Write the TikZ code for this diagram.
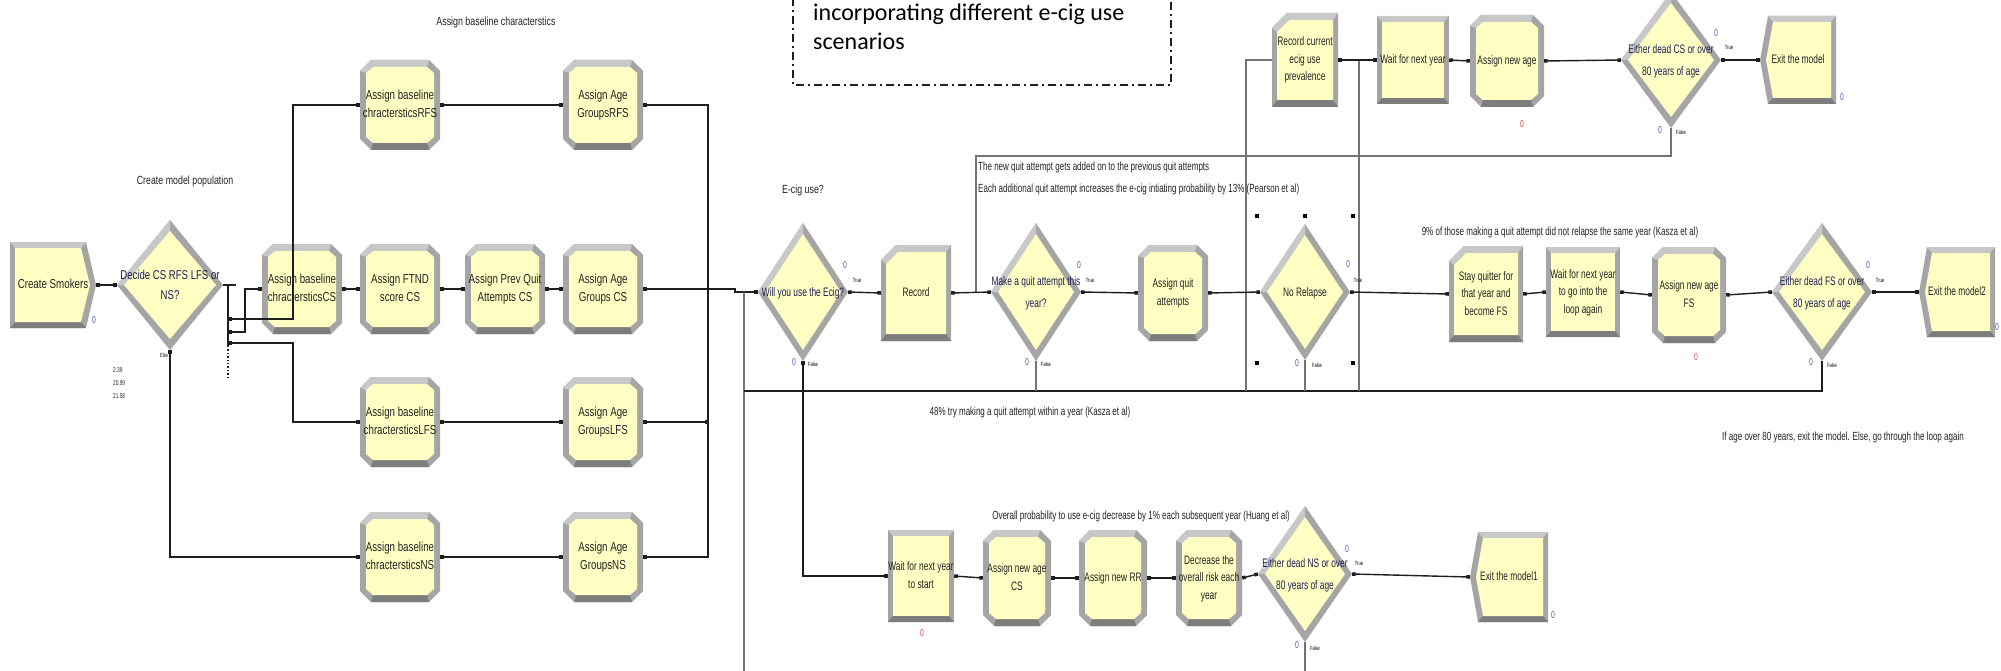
\documentclass[tikz,border=0pt]{standalone}
\usepackage{fontspec}
\setmainfont{Liberation Sans}
\newfontfamily\arnA[FakeStretch=0.75]{Liberation Sans}
\newfontfamily\arnB[FakeStretch=0.68]{Liberation Sans}
\newfontfamily\carl{Carlito}
\usetikzlibrary{arrows.meta}
\definecolor{ylw}{RGB}{255,255,196}
\definecolor{bevL}{RGB}{200,200,200}
\definecolor{bevM}{RGB}{165,165,165}
\definecolor{bevD}{RGB}{125,125,125}
\definecolor{lin}{RGB}{30,30,30}
\definecolor{glin}{RGB}{115,115,115}
\definecolor{cblue}{RGB}{80,90,175}
\definecolor{cred}{RGB}{200,80,80}
\definecolor{txt}{RGB}{35,35,35}
\definecolor{dtxt}{RGB}{30,30,85}
\newcommand\fA{\arnA\fontsize{13}{17.5}\selectfont}
\newcommand\fB{\arnB\fontsize{12.3}{17.5}\selectfont}
\newcommand\fAd{\arnA\fontsize{12.8}{20}\selectfont}
\newcommand\fBd{\arnB\fontsize{12.3}{21.5}\selectfont}
\newcommand\mlines[1]{\makebox[0pt]{\begin{tabular}{@{}c@{}}#1\end{tabular}}}
% shapes: cx cy hw hh  (y grows downwards)
\newcommand\AsgShape[4]{%
 \fill[bevM] (#1-#3+11,#2-#4) -- (#1+#3-11,#2-#4) -- (#1+#3,#2-#4+11) -- (#1+#3,#2+#4-11) -- (#1+#3-11,#2+#4) -- (#1-#3+11,#2+#4) -- (#1-#3,#2+#4-11) -- (#1-#3,#2-#4+11) -- cycle;
 \fill[bevL] (#1-#3+11,#2-#4) -- (#1+#3-11,#2-#4) -- (#1+#3-13,#2-#4+7) -- (#1-#3+13,#2-#4+7) -- cycle;
 \fill[bevL] (#1-#3,#2-#4+11) -- (#1-#3+11,#2-#4) -- (#1-#3+13,#2-#4+7) -- (#1-#3+6,#2-#4+13) -- cycle;
 \fill[bevD] (#1-#3+11,#2+#4) -- (#1+#3-11,#2+#4) -- (#1+#3-13,#2+#4-7) -- (#1-#3+13,#2+#4-7) -- cycle;
 \fill[ylw] (#1-#3+13,#2-#4+7) -- (#1+#3-13,#2-#4+7) -- (#1+#3-6,#2-#4+13) -- (#1+#3-6,#2+#4-13) -- (#1+#3-13,#2+#4-7) -- (#1-#3+13,#2+#4-7) -- (#1-#3+6,#2+#4-13) -- (#1-#3+6,#2-#4+13) -- cycle;}
\newcommand\RecShape[4]{%
 \fill[bevM] (#1-#3+15,#2-#4) -- (#1+#3,#2-#4) -- (#1+#3,#2+#4) -- (#1-#3,#2+#4) -- (#1-#3,#2-#4+15) -- cycle;
 \fill[bevL] (#1-#3+15,#2-#4) -- (#1+#3,#2-#4) -- (#1+#3-5,#2-#4+7) -- (#1-#3+17,#2-#4+7) -- cycle;
 \fill[bevL] (#1-#3,#2-#4+15) -- (#1-#3+15,#2-#4) -- (#1-#3+17,#2-#4+7) -- (#1-#3+5,#2-#4+19) -- cycle;
 \fill[bevD] (#1-#3,#2+#4) -- (#1+#3,#2+#4) -- (#1+#3-5,#2+#4-7) -- (#1-#3+5,#2+#4-7) -- cycle;
 \fill[ylw] (#1-#3+17,#2-#4+7) -- (#1+#3-5,#2-#4+7) -- (#1+#3-5,#2+#4-7) -- (#1-#3+5,#2+#4-7) -- (#1-#3+5,#2-#4+19) -- cycle;}
\newcommand\ProcShape[4]{%
 \fill[bevM] (#1-#3,#2-#4) rectangle (#1+#3,#2+#4);
 \fill[bevL] (#1-#3,#2-#4) -- (#1+#3,#2-#4) -- (#1+#3-5,#2-#4+6) -- (#1-#3+5,#2-#4+6) -- cycle;
 \fill[bevD] (#1-#3,#2+#4) -- (#1+#3,#2+#4) -- (#1+#3-5,#2+#4-6) -- (#1-#3+5,#2+#4-6) -- cycle;
 \fill[ylw] (#1-#3+5,#2-#4+6) rectangle (#1+#3-5,#2+#4-6);}
\newcommand\DispShape[4]{%
 \fill[bevM] (#1-#3,#2) -- (#1-#3+8,#2-#4) -- (#1+#3,#2-#4) -- (#1+#3,#2+#4) -- (#1-#3+8,#2+#4) -- cycle;
 \fill[bevL] (#1-#3+8,#2-#4) -- (#1+#3,#2-#4) -- (#1+#3-5,#2-#4+6) -- (#1-#3+13,#2-#4+6) -- cycle;
 \fill[bevD] (#1-#3+8,#2+#4) -- (#1+#3,#2+#4) -- (#1+#3-5,#2+#4-6) -- (#1-#3+13,#2+#4-6) -- cycle;
 \fill[ylw] (#1-#3+6,#2) -- (#1-#3+13,#2-#4+6) -- (#1+#3-5,#2-#4+6) -- (#1+#3-5,#2+#4-6) -- (#1-#3+13,#2+#4-6) -- cycle;}
\newcommand\CreShape[4]{%
 \fill[bevM] (#1-#3,#2-#4) -- (#1+#3-10,#2-#4) -- (#1+#3,#2) -- (#1+#3-10,#2+#4) -- (#1-#3,#2+#4) -- cycle;
 \fill[bevL] (#1-#3,#2-#4) -- (#1+#3-10,#2-#4) -- (#1+#3-15,#2-#4+6) -- (#1-#3+5,#2-#4+6) -- cycle;
 \fill[bevD] (#1-#3,#2+#4) -- (#1+#3-10,#2+#4) -- (#1+#3-15,#2+#4-6) -- (#1-#3+5,#2+#4-6) -- cycle;
 \fill[ylw] (#1-#3+5,#2-#4+6) -- (#1+#3-15,#2-#4+6) -- (#1+#3-6,#2) -- (#1+#3-15,#2+#4-6) -- (#1-#3+5,#2+#4-6) -- cycle;}
\newcommand\DiaShape[4]{%
 \fill[bevM] (#1,#2-#4) -- (#1+#3,#2) -- (#1,#2+#4) -- (#1-#3,#2) -- cycle;
 \fill[bevL] (#1,#2-#4) -- (#1-#3,#2) -- (#1-#3+7,#2) -- (#1,#2-#4+11) -- cycle;
 \fill[ylw] (#1,#2-#4+11) -- (#1+#3-7,#2) -- (#1,#2+#4-11) -- (#1-#3+7,#2) -- cycle;}
\newcommand\Mod[8][]{#2{#4}{#5}{#6}{#7}%
 \node[modtxt,minimum width={2*#6},minimum height={2*#7},#1] (#3) at (#4,#5) {\mlines{#8}};}
\tikzset{
 modtxt/.style={inner sep=0pt, text=txt, font=\fA},
 fB/.style={font=\fB},
 diaA/.style={text=dtxt, font=\fAd},
 diaB/.style={text=dtxt, font=\fBd},
 conn/.style={draw=lin, line width=1.4pt, arrows={Square[length=3.5pt,width=3.5pt]-Square[length=3.5pt,width=3.5pt]}},
 cline/.style={draw=lin, line width=1.4pt},
 gline/.style={draw=glin, line width=1.2pt},
 tl/.style={inner sep=0pt, font=\arnB\fontsize{6}{7}\selectfont, text=black},
 cnt/.style={inner sep=0pt, font=\arnB\fontsize{10}{11}\selectfont, text=cblue},
 cntr/.style={inner sep=0pt, font=\arnB\fontsize{10}{11}\selectfont, text=cred},
 ann/.style={inner sep=0pt, font=\arnB\fontsize{11.8}{14}\selectfont, text=txt},
 ann2/.style={inner sep=0pt, font=\arnA\fontsize{11.8}{14}\selectfont, text=txt},
 hdl/.style={fill=black, inner sep=0pt, minimum size=4pt},
}
\begin{document}
\begin{tikzpicture}[x=1pt,y=-1pt]
\fill[white] (0,0) rectangle (2001,671);
\useasboundingbox (0,0) rectangle (2001,671);

% ---------- left part
\Mod{\CreShape}{cre}{53}{285}{43}{43}{Create Smokers}
\Mod[diaA]{\DiaShape}{dec}{170}{285}{53}{65}{Decide CS RFS LFS or\\NS?}
\Mod{\AsgShape}{brfs}{400}{105}{40}{45}{Assign baseline\\chractersticsRFS}
\Mod{\AsgShape}{arfs}{603}{105}{40}{45}{Assign Age\\GroupsRFS}
\Mod{\AsgShape}{bcs}{302}{289}{40}{45}{Assign baseline\\chractersticsCS}
\Mod{\AsgShape}{ftnd}{400}{289}{40}{45}{Assign FTND\\score CS}
\Mod{\AsgShape}{pq}{505}{289}{40}{45}{Assign Prev Quit\\Attempts CS}
\Mod{\AsgShape}{acs}{603}{289}{40}{45}{Assign Age\\Groups CS}
\Mod{\AsgShape}{blfs}{400}{422}{40}{45}{Assign baseline\\chractersticsLFS}
\Mod{\AsgShape}{alfs}{603}{422}{40}{45}{Assign Age\\GroupsLFS}
\Mod{\AsgShape}{bns}{400}{557}{40}{45}{Assign baseline\\chractersticsNS}
\Mod{\AsgShape}{ans}{603}{557}{40}{45}{Assign Age\\GroupsNS}

% ---------- middle row
\Mod[diaB]{\DiaShape}{ecig}{803}{292}{45}{69}{Will you use the Ecig?}
\Mod[fB]{\RecShape}{rec}{916}{293}{35}{48}{Record}
\Mod[diaB]{\DiaShape}{mq}{1036}{292}{45}{69}{Make a quit attempt this\\year?}
\Mod[fB]{\AsgShape}{aqa}{1173}{293}{35}{48}{Assign quit\\attempts}
\Mod[diaB,text=txt]{\DiaShape}{nr}{1305}{292}{45}{68}{No Relapse}
\Mod[fB]{\RecShape}{stay}{1486}{294}{37}{48}{Stay quitter for\\that year and\\become FS}
\Mod[fB]{\ProcShape}{wfs}{1583}{292}{37}{45}{Wait for next year\\to go into the\\loop again}
\Mod[fB]{\AsgShape}{afs}{1689}{295}{37}{48}{Assign new age\\FS}
\Mod[diaB]{\DiaShape}{efs}{1822}{292}{50}{69}{Either dead FS or over\\80 years of age}
\Mod[fB]{\DispShape}{ex2}{1957}{292}{38}{45}{Exit the model2}

% ---------- top row
\Mod[fB]{\RecShape}{rcur}{1305}{60}{33}{47}{Record current\\ecig use\\prevalence}
\Mod[fB]{\ProcShape}{wny}{1413}{60}{36}{44}{Wait for next year}
\Mod[fB]{\AsgShape}{ana}{1507}{61}{37}{46}{Assign new age}
\Mod[diaB]{\DiaShape}{ecs}{1671}{60}{50}{68}{Either dead CS or over\\80 years of age}
\Mod[fB]{\DispShape}{ex}{1798}{60}{38}{44}{Exit the model}

% ---------- bottom row
\Mod[fB]{\ProcShape}{wst}{921}{576}{33}{46}{Wait for next year\\to start}
\Mod[fB]{\AsgShape}{anc}{1017}{578}{34}{48}{Assign new age\\CS}
\Mod[fB]{\AsgShape}{arr}{1113}{578}{34}{48}{Assign new RR}
\Mod[fB]{\AsgShape}{dcr}{1209}{578}{33}{48}{Decrease the\\overall risk each\\year}
\Mod[diaB]{\DiaShape}{ens}{1305}{574}{47}{68}{Either dead NS or over\\80 years of age}
\Mod[fB]{\DispShape}{ex1}{1509}{577}{39}{45}{Exit the model1}

% ---------- coordinates
\coordinate (dstub) at (236,285);
\coordinate (jtop) at (228,285);
\coordinate (jbot) at (228,346);
\coordinate (jend) at (228,377);
\coordinate (jr) at (228,319);
\coordinate (jc) at (228,332);
\coordinate (jl) at (228,343);
\coordinate (tr) at (708,289);
\coordinate (tl4) at (708,422);
\coordinate (lpin) at (744,292);
\coordinate (lpbot) at (744,671);
\coordinate (lp391) at (744,391);
\coordinate (v1) at (1246,391);
\coordinate (v2) at (1359,391);
\coordinate (l3) at (976,292);
\coordinate (l3t) at (976,156);
\coordinate (nsb) at (1305,671);

% ---------- connectors left
\draw[conn] (cre.east) -- (dec.west);
\draw[cline] (dec.east) -- (dstub);
\draw[cline] (jtop) -- (jbot);
\draw[cline, dotted] (jbot) -- (jend);
\draw[conn] (jr) -- (293,319) |- (brfs.west);
\draw[conn] (jc) -- (245,332) |- (bcs.west);
\draw[conn] (jl) -- (293,343) |- (blfs.west);
\draw[conn] (dec.south) |- (bns.west);
\draw[conn] (bcs.east) -- (ftnd.west);
\draw[conn] (ftnd.east) -- (pq.west);
\draw[conn] (pq.east) -- (acs.west);
\draw[conn] (brfs.east) -- (arfs.west);
\draw[conn] (blfs.east) -- (alfs.west);
\draw[conn] (bns.east) -- (ans.west);
\draw[conn] (arfs.east) -| (708,557) -- (ans.east);
\draw[conn] (alfs.east) -- (tl4);
\draw[conn] (acs.east) -- (tr) -- (735,289) |- (ecig.west);

% ---------- loops
\draw[gline] (lpbot) -- (lpin);
\draw[cline] (efs.south) |- (lp391);
\draw[gline] (mq.south) -- (mq.south |- lp391);
\draw[gline] (nr.south) -- (nr.south |- lp391);
\draw[gline] (v1) |- (rcur.west);
\draw[gline] (v2) -- (v2 |- rcur.east);
\draw[gline] (ecs.south) |- (l3t) -- (l3);

% ---------- connectors middle / top / bottom
\draw[conn] (ecig.east) -- (rec.west);
\draw[conn] (ecig.south) |- (wst.west);
\draw[conn] (rec.east) -- (mq.west);
\draw[conn] (mq.east) -- (aqa.west);
\draw[conn] (aqa.east) -- (nr.west);
\draw[conn] (nr.east) -- (stay.west);
\draw[conn] (stay.east) -- (wfs.west);
\draw[conn] (wfs.east) -- (afs.west);
\draw[conn] (afs.east) -- (efs.west);
\draw[conn] (efs.east) -- (ex2.west);
\draw[conn] (rcur.east) -- (wny.west);
\draw[conn] (wny.east) -- (ana.west);
\draw[conn] (ana.east) -- (ecs.west);
\draw[conn] (ecs.east) -- (ex.west);
\draw[conn] (wst.east) -- (anc.west);
\draw[conn] (anc.east) -- (arr.west);
\draw[conn] (arr.east) -- (dcr.west);
\draw[conn] (dcr.east) -- (ens.west);
\draw[conn] (ens.east) -- (ex1.west);
\draw[gline] (ens.south) -- (nsb);

% ---------- selection handles
\node[hdl] (h1) at (1257,216) {};
\node[hdl] (h2) at (1305,216) {};
\node[hdl] (h3) at (1353,216) {};
\node[hdl] (h4) at (1257,363) {};
\node[hdl] (h5) at (1353,363) {};

% ---------- True / False / Else
\node[tl] (t1) at (857,280) {True};
\node[tl] (t2) at (1090,280) {True};
\node[tl] (t3) at (1358,280) {True};
\node[tl] (t4) at (1880,280) {True};
\node[tl] (t5) at (1729,47) {True};
\node[tl] (t6) at (1359,563) {True};
\node[tl] (f1) at (813,364) {False};
\node[tl] (f2) at (1046,364) {False};
\node[tl] (f3) at (1317,365) {False};
\node[tl] (f4) at (1832,365) {False};
\node[tl] (f5) at (1681,132) {False};
\node[tl] (f6) at (1315,648) {False};
\node[tl] (els) at (164,355) {Else};

% ---------- counters
\node[cnt] (c1) at (94,320) {0};
\node[cnt] (c2) at (845,265) {0};
\node[cnt] (c3) at (794,362) {0};
\node[cnt] (c4) at (1079,265) {0};
\node[cnt] (c5) at (1027,362) {0};
\node[cnt] (c6) at (1348,264) {0};
\node[cnt] (c7) at (1297,363) {0};
\node[cnt] (c8) at (1868,265) {0};
\node[cnt] (c9) at (1811,362) {0};
\node[cnt] (c10) at (1716,33) {0};
\node[cnt] (c11) at (1660,130) {0};
\node[cnt] (c12) at (1347,549) {0};
\node[cnt] (c13) at (1297,645) {0};
\node[cnt] (c14) at (1842,97) {0};
\node[cnt] (c15) at (1997,327) {0};
\node[cnt] (c16) at (1553,615) {0};
\node[cntr] (r1) at (1522,124) {0};
\node[cntr] (r2) at (1696,357) {0};
\node[cntr] (r3) at (922,633) {0};

% ---------- annotations
\node[ann2] (n7) at (496,22) {Assign baseline characterstics};
\node[ann2] (n8) at (185,181) {Create model population};
\node[ann2] (n9) at (803,190) {E-cig use?};
\node[ann, anchor=west] (n1) at (978,167) {The new quit attempt gets added on to the previous quit attempts};
\node[ann, anchor=west] (n2) at (978,189) {Each additional quit attempt increases the e-cig intiating probability by 13\% (Pearson et al)};
\node[ann] (n3) at (1030,412) {48\% try making a quit attempt within a year (Kasza et al)};
\node[ann] (n4) at (1560,232) {9\% of those making a quit attempt did not relapse the same year (Kasza et al)};
\node[ann] (n5) at (1843,437) {If age over 80 years, exit the model. Else, go through the loop again};
\node[ann] (n6) at (1141,516) {Overall probability to use e-cig decrease by 1\% each subsequent year (Huang et al)};
\node[anchor=north west, inner sep=0pt, align=left, font=\arnB\fontsize{7}{13}\selectfont, text=txt] (probs) at (113,367) {2.39\\20.99\\21.58};

% ---------- dashed note
\draw[draw=lin, line width=1.3pt, dash pattern=on 8pt off 4pt on 2pt off 4pt] (793,-2) |- (1171,85) -- (1171,-2);
\node[anchor=north west, inner sep=0pt, align=left, font=\carl\fontsize{24}{29}\selectfont, text=black] (note) at (813,4) {incorporating different e-cig use\\scenarios};
\end{tikzpicture}
\end{document}
